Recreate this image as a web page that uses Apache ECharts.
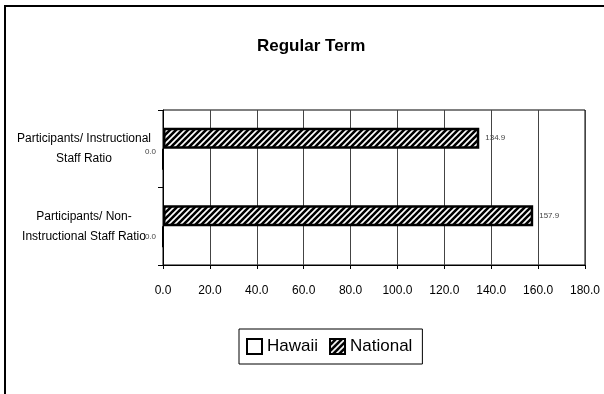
<!DOCTYPE html>
<html>
<head>
<meta charset="utf-8">
<script src="https://cdn.jsdelivr.net/npm/echarts@6/dist/echarts.min.js"></script>
<style>
html,body{margin:0;padding:0;background:#fff;}
#c{width:604px;height:394px;}
</style>
</head>
<body>
<div id="c"></div>
<script>
// ---- data ----
const categories = ['Participants/ Non-\nInstructional Staff Ratio', 'Participants/ Instructional\nStaff Ratio'];
const seriesNames = ['Hawaii', 'National'];
const hawaiiValues = [0.0, 0.0];
const nationalValues = [157.9, 134.9];
const xTicks = [0, 20, 40, 60, 80, 100, 120, 140, 160, 180];

// ---- stripe pattern ----
function makeStripe() {
  const c = document.createElement('canvas');
  c.width = 6; c.height = 6;
  const g = c.getContext('2d');
  g.fillStyle = '#fff'; g.fillRect(0, 0, 6, 6);
  g.strokeStyle = '#000'; g.lineWidth = 2.6;
  [[-6, 6, 6, -6], [0, 6, 6, 0], [0, 12, 12, 0]].forEach(function (l) {
    g.beginPath(); g.moveTo(l[0], l[1]); g.lineTo(l[2], l[3]); g.stroke();
  });
  return c;
}
const stripe = makeStripe();

const font = 'Liberation Sans, Arial, sans-serif';
const chart = echarts.init(document.getElementById('c'), null, {renderer: 'canvas'});

chart.setOption({
  animation: false,
  textStyle: {fontFamily: font},
  title: {
    text: 'Regular Term',
    left: 252, top: 33,
    textStyle: {fontFamily: font, fontSize: 17, fontWeight: 'bold', color: '#000'}
  },
  graphic: [{
    type: 'rect', silent: true, z: 100,
    shape: {x: 5, y: 6, width: 800, height: 600},
    style: {fill: 'none', stroke: '#000', lineWidth: 2}
  }],
  legend: {
    data: seriesNames,
    left: 239, top: 329,
    orient: 'horizontal',
    itemWidth: 15, itemHeight: 15, itemGap: 11,
    padding: [9, 10, 9, 7],
    borderColor: '#000', borderWidth: 1,
    icon: 'rect',
    textStyle: {fontFamily: font, fontSize: 17, color: '#000'}
  },
  grid: {
    left: 163, right: 19, top: 110, bottom: 129,
    show: true, borderColor: '#000', borderWidth: 1, backgroundColor: 'transparent'
  },
  xAxis: {
    type: 'value', min: xTicks[0], max: xTicks[xTicks.length - 1], interval: 20,
    axisLine: {show: true, lineStyle: {color: '#000', width: 1}},
    axisTick: {show: true, length: 4, lineStyle: {color: '#000'}},
    splitLine: {show: true, lineStyle: {color: '#444', width: 1}},
    axisLabel: {
      margin: 20, fontSize: 12, color: '#000', fontFamily: font,
      formatter: function (v) { return v.toFixed(1); }
    }
  },
  yAxis: {
    type: 'category', data: categories,
    axisLine: {show: true, lineStyle: {color: '#000', width: 1}},
    axisTick: {show: true, length: 5, lineStyle: {color: '#000'}},
    axisLabel: {
      margin: 79, align: 'center', fontSize: 12, lineHeight: 20, color: '#000', fontFamily: font
    }
  },
  series: [
    {
      name: 'National', type: 'bar', barWidth: 21, barGap: 0, barCategoryGap: '43%',
      data: nationalValues,
      itemStyle: {color: {image: stripe, repeat: 'repeat'}, borderColor: '#000', borderWidth: 2.5},
      label: {
        show: true, position: 'right', distance: 6, fontSize: 8, color: '#444', fontFamily: font,
        formatter: function (p) { return p.value.toFixed(1); }
      }
    },
    {
      name: 'Hawaii', type: 'bar', barWidth: 21, barGap: 0,
      data: hawaiiValues.map(function (v, i) {
        return {value: v, label: {offset: i === 1 ? [0, -7] : [0, 0]}};
      }),
      itemStyle: {color: '#fff', borderColor: '#000', borderWidth: 2},
      label: {
        show: true, position: 'left', distance: 6, fontSize: 8, color: '#444', fontFamily: font,
        formatter: function (p) { return p.value.toFixed(1); }
      }
    }
  ]
});
</script>
</body>
</html>
